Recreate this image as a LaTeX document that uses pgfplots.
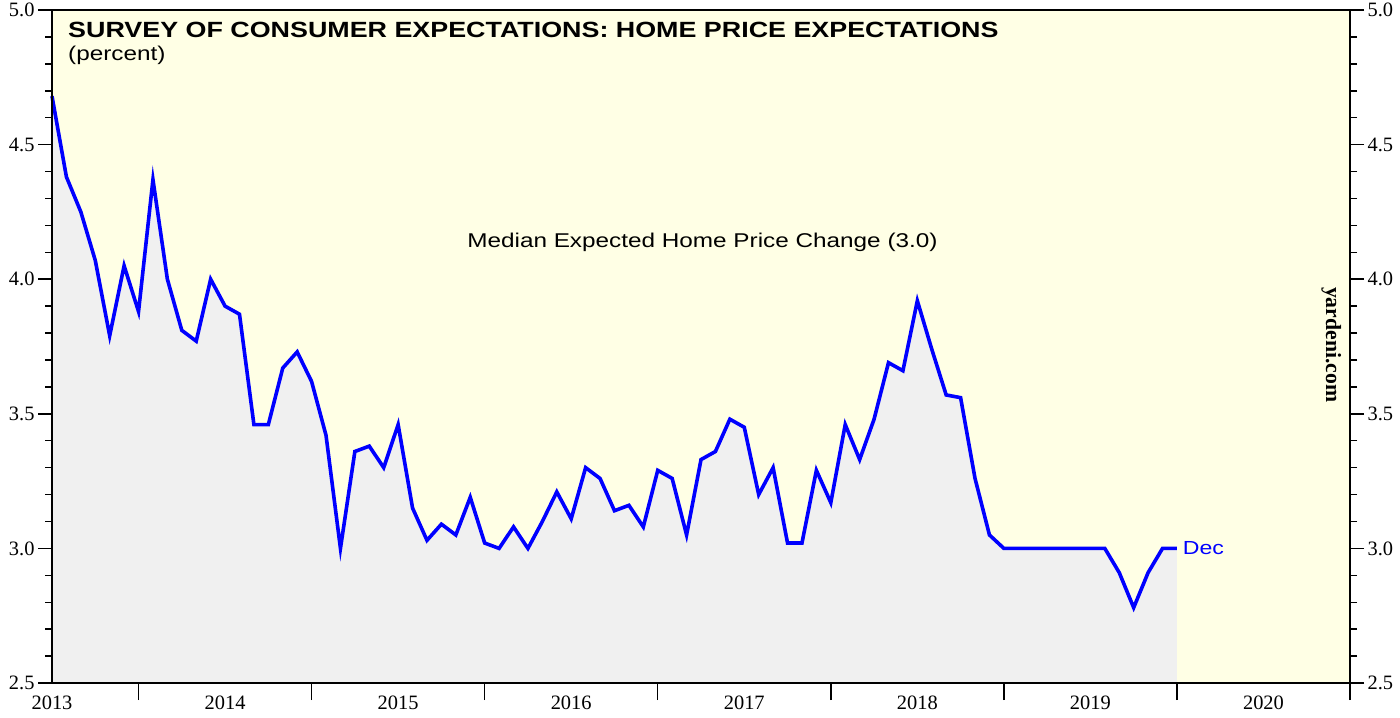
\documentclass[border=0pt]{standalone}
\usepackage{fontspec}
\setmainfont{Liberation Serif}
\newfontfamily\arialx[FakeStretch=1.22]{Liberation Sans}
\usepackage{pgfplots}
\pgfplotsset{compat=1.18}
\definecolor{bg}{RGB}{255,255,229}
\definecolor{fillg}{RGB}{240,240,240}
\pgfplotsset{
  common/.style={
    scale only axis, width=1298bp, height=673bp,
    xmin=0, xmax=90, ymin=2.5, ymax=5,
    ytick={2.5,3,...,5}, minor y tick num=4,
    tick align=outside,
    major tick length=14bp, minor tick length=7bp,
    every tick/.style={black, line width=1.5bp},
    axis line style={line width=2.5bp},
    tick label style={font=\fontsize{20.5}{22}\selectfont},
    /pgf/number format/assume math mode=true,
    yticklabel style={/pgf/number format/.cd, fixed, fixed zerofill, precision=1},
  }
}
\begin{document}
\begin{tikzpicture}
\begin{axis}[common, name=ax,
  axis background/.style={fill=bg},
  ytick pos=left,
  xtick={0,12,...,84}, xticklabels={2013,2014,2015,2016,2017,2018,2019,2020},
  xtick pos=bottom,
  major x tick style={draw=none},
  xticklabel style={yshift=4.5bp},
  extra x ticks={6,18,...,90}, extra x tick labels={},
  extra x tick style={major x tick style={draw=black, line width=1.5bp}, major tick length=17bp},
  clip=false, axis on top]
\addplot[fill=fillg, draw=none] coordinates {
(0,4.68)(1,4.38)(2,4.25)(3,4.07)(4,3.79)(5,4.05)(6,3.88)(7,4.37)(8,4.00)(9,3.81)
(10,3.77)(11,4.00)(12,3.90)(13,3.87)(14,3.46)(15,3.46)(16,3.67)(17,3.73)(18,3.62)(19,3.42)
(20,3.00)(21,3.36)(22,3.38)(23,3.30)(24,3.46)(25,3.15)(26,3.03)(27,3.09)(28,3.05)(29,3.19)
(30,3.02)(31,3.00)(32,3.08)(33,3.00)(34,3.10)(35,3.21)(36,3.11)(37,3.30)(38,3.26)(39,3.14)
(40,3.16)(41,3.08)(42,3.29)(43,3.26)(44,3.05)(45,3.33)(46,3.36)(47,3.48)(48,3.45)(49,3.20)
(50,3.30)(51,3.02)(52,3.02)(53,3.29)(54,3.17)(55,3.46)(56,3.33)(57,3.48)(58,3.69)(59,3.66)
(60,3.92)(61,3.74)(62,3.57)(63,3.56)(64,3.26)(65,3.05)(66,3.00)(67,3.00)(68,3.00)(69,3.00)
(70,3.00)(71,3.00)(72,3.00)(73,3.00)(74,2.91)(75,2.78)(76,2.91)(77,3.00)(78,3.00)
} \closedcycle;
\addplot[blue, line width=3.6bp] coordinates {
(0,4.68)(1,4.38)(2,4.25)(3,4.07)(4,3.79)(5,4.05)(6,3.88)(7,4.37)(8,4.00)(9,3.81)
(10,3.77)(11,4.00)(12,3.90)(13,3.87)(14,3.46)(15,3.46)(16,3.67)(17,3.73)(18,3.62)(19,3.42)
(20,3.00)(21,3.36)(22,3.38)(23,3.30)(24,3.46)(25,3.15)(26,3.03)(27,3.09)(28,3.05)(29,3.19)
(30,3.02)(31,3.00)(32,3.08)(33,3.00)(34,3.10)(35,3.21)(36,3.11)(37,3.30)(38,3.26)(39,3.14)
(40,3.16)(41,3.08)(42,3.29)(43,3.26)(44,3.05)(45,3.33)(46,3.36)(47,3.48)(48,3.45)(49,3.20)
(50,3.30)(51,3.02)(52,3.02)(53,3.29)(54,3.17)(55,3.46)(56,3.33)(57,3.48)(58,3.69)(59,3.66)
(60,3.92)(61,3.74)(62,3.57)(63,3.56)(64,3.26)(65,3.05)(66,3.00)(67,3.00)(68,3.00)(69,3.00)
(70,3.00)(71,3.00)(72,3.00)(73,3.00)(74,2.91)(75,2.78)(76,2.91)(77,3.00)(78,3.00)
};
\node[anchor=base west, inner sep=0pt, font=\arialx\bfseries\fontsize{22.1}{23}\selectfont] at (axis cs:1.11,4.896) {SURVEY OF CONSUMER EXPECTATIONS: HOME PRICE EXPECTATIONS};
\node[anchor=base west, inner sep=0pt, font=\arialx\fontsize{20}{22}\selectfont] at (axis cs:1.11,4.811) {(percent)};
\node[anchor=base, inner sep=0pt, font=\arialx\fontsize{20}{22}\selectfont] at (axis cs:45.1,4.117) {Median Expected Home Price Change (3.0)};
\node[anchor=west, inner sep=0pt, text=blue, font=\arialx\fontsize{19}{22}\selectfont] at (axis cs:78.4,3.0) {Dec};
\node[rotate=-90, inner sep=0pt, font=\bfseries\fontsize{21.8}{22}\selectfont] at (axis cs:88.7,3.757) {yardeni.com};
\end{axis}
\begin{axis}[common, hide x axis, ytick pos=right, yticklabel pos=right]
\end{axis}
\pgfresetboundingbox
\path ([shift={(-52bp,-34bp)}]ax.south west) rectangle ([shift={(50bp,10bp)}]ax.north east);
\end{tikzpicture}
\end{document}
